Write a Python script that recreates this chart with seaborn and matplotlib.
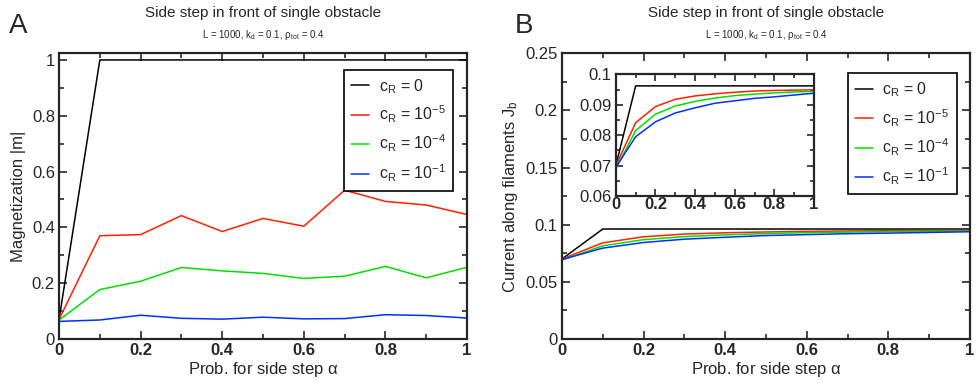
import numpy as np
import pandas as pd
import matplotlib
matplotlib.use("Agg")
import matplotlib.pyplot as plt
import seaborn as sns
from matplotlib.ticker import MultipleLocator

alpha = [0.0, 0.1, 0.2, 0.3, 0.4, 0.5, 0.6, 0.7, 0.8, 0.9, 1.0]
labels = [r"$\mathregular{c_R}$ = 0", r"$\mathregular{c_R}$ = $\mathregular{10^{-5}}$",
          r"$\mathregular{c_R}$ = $\mathregular{10^{-4}}$", r"$\mathregular{c_R}$ = $\mathregular{10^{-1}}$"]
colors = ["#000000", "#ff2000", "#00e000", "#0030ff"]

# panel A: magnetization |m|
mag_c0 = [0.07, 1.0, 1.0, 1.0, 1.0, 1.0, 1.0, 1.0, 1.0, 1.0, 1.0]
mag_c5 = [0.07, 0.370, 0.374, 0.442, 0.385, 0.432, 0.404, 0.533, 0.493, 0.480, 0.446]
mag_c4 = [0.068, 0.177, 0.207, 0.256, 0.244, 0.235, 0.217, 0.225, 0.260, 0.219, 0.257]
mag_c1 = [0.063, 0.068, 0.085, 0.074, 0.071, 0.078, 0.072, 0.073, 0.087, 0.084, 0.075]

# panel B: current J_b
cur_c0 = [0.0700, 0.0962, 0.0962, 0.0962, 0.0962, 0.0962, 0.0962, 0.0962, 0.0962, 0.0962, 0.0962]
cur_c5 = [0.0700, 0.0841, 0.0894, 0.0918, 0.0929, 0.0936, 0.0941, 0.0945, 0.0947, 0.0948, 0.0949]
cur_c4 = [0.0690, 0.0815, 0.0869, 0.0896, 0.0911, 0.0922, 0.0930, 0.0935, 0.0939, 0.0942, 0.0944]
cur_c1 = [0.0695, 0.0795, 0.0844, 0.0873, 0.0890, 0.0905, 0.0913, 0.0921, 0.0926, 0.0932, 0.0938]


def long_df(series):
    rows = []
    for lab, vals in zip(labels, series):
        for a, v in zip(alpha, vals):
            rows.append({"alpha": a, "value": v, "cR": lab})
    return pd.DataFrame(rows)


df_mag = long_df([mag_c0, mag_c5, mag_c4, mag_c1])
df_cur = long_df([cur_c0, cur_c5, cur_c4, cur_c1])

sns.set_style("ticks")
plt.rcParams["font.family"] = ["Liberation Sans", "DejaVu Sans"]
plt.rcParams["mathtext.fontset"] = "custom"
plt.rcParams["mathtext.rm"] = "Liberation Sans"
plt.rcParams["mathtext.it"] = "Liberation Sans:italic"
plt.rcParams["mathtext.bf"] = "Liberation Sans:bold"

palette = dict(zip(labels, colors))


def style_axes(ax, xmaj, xmin, ymaj, ymin, fs=12, ml=6, mn=3.5):
    ax.xaxis.set_major_locator(MultipleLocator(xmaj))
    ax.xaxis.set_minor_locator(MultipleLocator(xmin))
    ax.yaxis.set_major_locator(MultipleLocator(ymaj))
    ax.yaxis.set_minor_locator(MultipleLocator(ymin))
    ax.tick_params(which="both", direction="in", top=True, right=True, width=1.2)
    ax.tick_params(which="major", length=ml, labelsize=fs, pad=3)
    ax.tick_params(which="minor", length=mn)
    for lab in ax.get_xticklabels():
        lab.set_fontweight("bold")
    for s in ax.spines.values():
        s.set_linewidth(1.6)
        s.set_visible(True)
    ax.xaxis.set_major_formatter(plt.FuncFormatter(lambda v, p: f"{v:g}"))
    ax.yaxis.set_major_formatter(plt.FuncFormatter(lambda v, p: f"{v:g}"))


def add_titles(ax, letter, lx):
    fig.text(lx, 0.965, letter, fontsize=20, ha="left", va="top")
    ax.text(0.5, 1.115, "Side step in front of single obstacle", transform=ax.transAxes,
            ha="center", va="bottom", fontsize=11)
    ax.text(0.5, 1.04, r"L = 1000, $\mathregular{k_d}$ = 0.1, $\mathregular{\rho_{tot}}$ = 0.4",
            transform=ax.transAxes, ha="center", va="bottom", fontsize=7)


def add_legend(ax, x, y):
    leg = ax.legend(loc="upper left", bbox_to_anchor=(x, y), fontsize=11.5, frameon=True,
                    fancybox=False, edgecolor="black", handlelength=1.1, labelspacing=0.5,
                    borderpad=0.45, handletextpad=0.6, borderaxespad=0, framealpha=1)
    leg.get_frame().set_linewidth(1.2)
    leg.set_title(None)


fig = plt.figure(figsize=(9.76, 3.83), dpi=100)
axA = fig.add_axes([0.0605, 0.115, 0.418, 0.746])
axB = fig.add_axes([0.5758, 0.115, 0.418, 0.746])

sns.lineplot(data=df_mag, x="alpha", y="value", hue="cR", palette=palette, ax=axA, linewidth=1.1)
axA.set_xlim(0, 1)
axA.set_ylim(0, 1.024)
style_axes(axA, 0.2, 0.1, 0.2, 0.1)
axA.set_xlabel(r"Prob. for side step $\mathregular{\alpha}$", fontsize=12, labelpad=1)
axA.set_ylabel("Magnetization |m|", fontsize=12, labelpad=4)
add_legend(axA, 0.699, 0.942)
add_titles(axA, "A", 0.009)

sns.lineplot(data=df_cur, x="alpha", y="value", hue="cR", palette=palette, ax=axB, linewidth=1.1)
axB.set_xlim(0, 1)
axB.set_ylim(0, 0.25)
style_axes(axB, 0.2, 0.1, 0.05, 0.025)
axB.set_xlabel(r"Prob. for side step $\mathregular{\alpha}$", fontsize=12, labelpad=1)
axB.set_ylabel(r"Current along filaments $\mathregular{J_b}$", fontsize=12, labelpad=4)
add_legend(axB, 0.701, 0.93)
add_titles(axB, "B", 0.527)

axI = fig.add_axes([0.631, 0.488, 0.203, 0.318])
sns.lineplot(data=df_cur, x="alpha", y="value", hue="cR", palette=palette, ax=axI,
             linewidth=1.1, legend=False)
axI.set_xlim(0, 1)
axI.set_ylim(0.06, 0.1)
style_axes(axI, 0.2, 0.1, 0.01, 0.005, fs=12, ml=5, mn=3)
axI.set_xlabel("")
axI.set_ylabel("")
axI.tick_params(axis="x", pad=1)

fig.savefig("out.png", dpi=100)
